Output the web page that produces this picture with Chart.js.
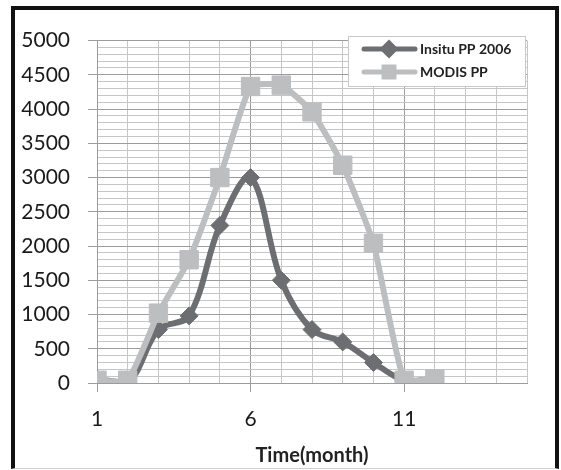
<!DOCTYPE html>
<html>
<head>
<meta charset="utf-8">
<script src="https://cdn.jsdelivr.net/npm/chart.js@4/dist/chart.umd.min.js"></script>
<style>
    html, body { margin: 0; padding: 0; background: #fff; }
    #frame {
        position: absolute; left: 11px; top: 6px; width: 540px; height: 458px;
        border-left: 4px solid #111; border-top: 4px solid #111; border-right: 4px solid #111;
        border-bottom: 1px solid #d0d0d0;
    }
    #chart { display: block; }
</style>
</head>
<body>
<div id="frame"><canvas id="chart" width="540" height="458"></canvas></div>
<script>
'use strict';

const months = [1, 2, 3, 4, 5, 6, 7, 8, 9, 10, 11, 12];
const insituPP = [60, 0, 780, 980, 2300, 3000, 1500, 780, 600, 300, 40, 60];
const modisPP = [40, 40, 1020, 1800, 3000, 4330, 4350, 3960, 3180, 2040, 40, 60];
const xTickLabels = [1, 6, 11];
const yTickLabels = [0, 500, 1000, 1500, 2000, 2500, 3000, 3500, 4000, 4500, 5000];

const darkGray = '#6d6e71';
const lightGray = '#bdbec0';
const majorGrid = '#9c9c9c';
const minorGrid = '#c6c6c6';
const fontFamily = 'Lato, "Open Sans", sans-serif';

function toPoints(values) {
    return months.map((m, i) => ({ x: m, y: values[i] }));
}

// Excel-like legend: line sample with marker in the middle
const boxLegend = {
    id: 'boxLegend',
    afterDraw(chart) {
        const ctx = chart.ctx;
        ctx.save();
        ctx.fillStyle = '#fff';
        ctx.fillRect(333, 26, 177, 50);
        ctx.strokeStyle = '#c8c8c8';
        ctx.lineWidth = 1;
        ctx.strokeRect(333.5, 26.5, 177, 50);
        const rows = [39, 62];
        chart.data.datasets.forEach((ds, i) => {
            const y = rows[i];
            ctx.strokeStyle = ds.borderColor;
            ctx.lineWidth = 5;
            ctx.lineCap = 'round';
            ctx.beginPath();
            ctx.moveTo(349, y);
            ctx.lineTo(400, y);
            ctx.stroke();
            Chart.helpers.drawPoint(ctx, {
                pointStyle: ds.pointStyle,
                radius: ds.pointStyle === 'rect' ? 7 : 6,
                borderWidth: 1,
                rotation: 0,
            }, 374, y);
            ctx.fillStyle = ds.borderColor;
            ctx.fill();
            ctx.fillStyle = '#222';
            ctx.font = 'bold 14px ' + fontFamily;
            ctx.textBaseline = 'middle';
            ctx.fillText(ds.label, 405, y);
        });
        ctx.restore();
    },
};

const chartElement = document.getElementById('chart');
const chart = new Chart(chartElement, {
    type: 'line',
    data: {
        datasets: [{
            label: 'Insitu PP 2006',
            data: toPoints(insituPP),
            borderColor: darkGray,
            backgroundColor: darkGray,
            borderWidth: 6,
            pointStyle: 'rectRot',
            pointRadius: 9,
            pointBorderWidth: 1,
            tension: 0.35,
            order: 1,
        }, {
            label: 'MODIS PP',
            data: toPoints(modisPP),
            borderColor: lightGray,
            backgroundColor: lightGray,
            borderWidth: 6,
            pointStyle: 'rect',
            pointRadius: 13,
            pointBorderWidth: 1,
            tension: 0.15,
            order: 0,
        }],
    },
    options: {
        responsive: false,
        animation: false,
        layout: {
            padding: { top: 27, right: 28, left: 0, bottom: 0 },
        },
        scales: {
            x: {
                type: 'linear',
                min: 1,
                max: 15,
                afterFit: scale => { scale.height = 85; },
                ticks: {
                    stepSize: 1,
                    autoSkip: false,
                    maxRotation: 0,
                    padding: 15,
                    color: '#1a1a1a',
                    font: { family: fontFamily, size: 21 },
                    callback: value => xTickLabels.includes(value) ? String(value) : '',
                },
                grid: {
                    color: ctx => xTickLabels.includes(ctx.tick && ctx.tick.value) ? majorGrid : minorGrid,
                    tickColor: ctx => xTickLabels.includes(ctx.tick && ctx.tick.value) ? majorGrid : 'rgba(0,0,0,0)',
                    tickLength: 9,
                },
                border: { color: majorGrid },
                title: {
                    display: true,
                    text: 'Time(month)',
                    color: '#222',
                    font: { family: fontFamily, size: 20, weight: 'bold' },
                    padding: { top: 0, bottom: 0 },
                },
            },
            y: {
                type: 'linear',
                min: 0,
                max: 5000,
                afterFit: scale => { scale.width = 82; },
                ticks: {
                    stepSize: 100,
                    maxTicksLimit: 100,
                    autoSkip: false,
                    padding: 18,
                    color: '#1a1a1a',
                    font: { family: fontFamily, size: 21 },
                    callback: value => yTickLabels.includes(value) ? String(value) : '',
                },
                grid: {
                    color: ctx => yTickLabels.includes(ctx.tick && ctx.tick.value) ? majorGrid : minorGrid,
                    tickColor: ctx => yTickLabels.includes(ctx.tick && ctx.tick.value) ? majorGrid : 'rgba(0,0,0,0)',
                    tickLength: 9,
                },
                border: { color: majorGrid },
            },
        },
        plugins: {
            legend: { display: false },
            tooltip: { enabled: false },
        },
    },
    plugins: [boxLegend],
});
</script>
</body>
</html>
